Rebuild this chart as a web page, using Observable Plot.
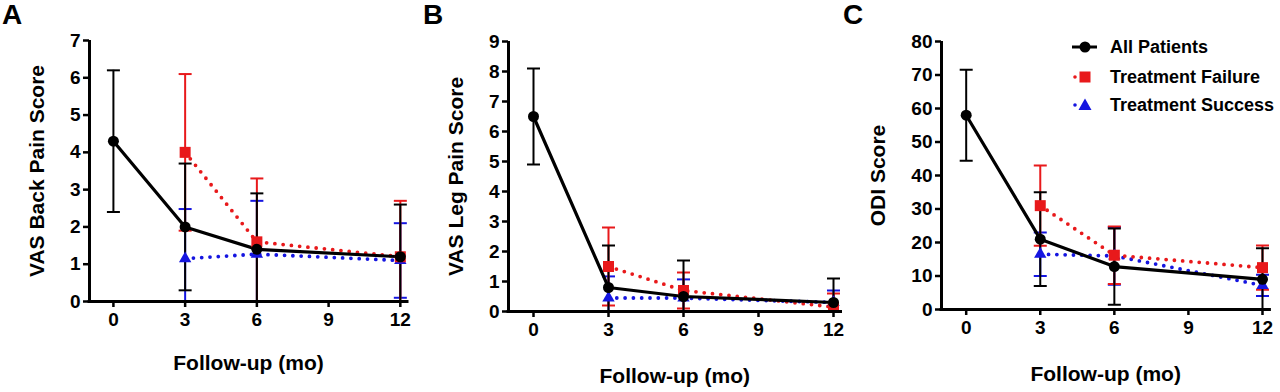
<!DOCTYPE html>
<html>
<head>
<meta charset="utf-8">
<script src="https://cdn.jsdelivr.net/npm/d3@7"></script>
<script src="https://cdn.jsdelivr.net/npm/@observablehq/plot@0.6"></script>
<style>
  html, body { margin: 0; padding: 0; background: #fff; }
  #root { position: relative; width: 1280px; height: 392px; overflow: hidden; font-family: "Liberation Sans", Arial, sans-serif; font-weight: bold; color: #000; }
  .panel { position: absolute; top: 0; }
  .letter { position: absolute; font-size: 28px; line-height: 28px; font-weight: bold; }
  svg g[aria-label="x-axis label"], svg g[aria-label="y-axis label"] { font-size: 21px; }
  .legrow { position: absolute; left: 1072px; height: 20px; display: flex; align-items: center; font-size: 18px; white-space: nowrap; }
  .legrow svg { width: 38px; height: 20px; flex: none; }
</style>
</head>
<body>
<div id="root"></div>
<script>
// ---------- data ----------
const months = [0, 3, 6, 12];
const subMonths = [3, 6, 12];
const xTicks = [0, 3, 6, 9, 12];
const xLabel = "Follow-up (mo)";
const seriesNames = ["All Patients", "Treatment Failure", "Treatment Success"];
const seriesColors = ["#000000", "#e8191b", "#1515e0"];

// Panel A: VAS back pain (mean, SD)
const backAllMean = [4.3, 2.0, 1.4, 1.2];
const backAllSD = [1.9, 1.7, 1.5, 1.4];
const backFailMean = [4.0, 1.6, 1.2];
const backFailSD = [2.1, 1.7, 1.5];
const backSuccMean = [1.15, 1.27, 1.1];
const backSuccSD = [1.33, 1.43, 1.0];
const backTicks = [0, 1, 2, 3, 4, 5, 6, 7];

// Panel B: VAS leg pain
const legAllMean = [6.5, 0.8, 0.5, 0.3];
const legAllSD = [1.6, 1.4, 1.2, 0.8];
const legFailMean = [1.5, 0.7, 0.15];
const legFailSD = [1.3, 0.6, 0.45];
const legSuccMean = [0.45, 0.45, 0.3];
const legSuccSD = [0.72, 0.62, 0.4];
const legTicks = [0, 1, 2, 3, 4, 5, 6, 7, 8, 9];

// Panel C: ODI
const odiAllMean = [58, 21, 12.8, 9];
const odiAllSD = [13.6, 14, 11.4, 9.3];
const odiFailMean = [31, 16.2, 12.5];
const odiFailSD = [12, 8.6, 6.6];
const odiSuccMean = [16.5, 16, 7.2];
const odiSuccSD = [6.5, 8.6, 3.2];
const odiTicks = [0, 10, 20, 30, 40, 50, 60, 70, 80];

// ---------- helpers ----------
function rows(xs, means, sds) {
  return xs.map((m, i) => ({month: m, mean: means[i], lo: means[i] - sds[i], hi: means[i] + sds[i]}));
}
const capSymbol = {
  draw(ctx, size) {
    const r = Math.sqrt(size / Math.PI);
    ctx.moveTo(-r, 0);
    ctx.lineTo(r, 0);
  }
};
const markerSymbols = ["circle", "square", "triangle"];
const markerR = [5.5, 6.2, 4.6];

const panels = [
  {letter: "A", letterLeft: 2, left: 0, width: 420, ml: 89, mr: 13, mt: 40, mb: 91,
   yDomain: [0, 7], yTicks: backTicks, yLabel: "VAS Back Pain Score", yOff: 60, xOff: 68,
   series: [rows(months, backAllMean, backAllSD), rows(subMonths, backFailMean, backFailSD), rows(subMonths, backSuccMean, backSuccSD)]},
  {letter: "B", letterLeft: 423, left: 420, width: 440, ml: 88, mr: 19.5, mt: 41, mb: 81,
   yDomain: [0, 9], yTicks: legTicks, yLabel: "VAS Leg Pain Score", yOff: 60, xOff: 71,
   series: [rows(months, legAllMean, legAllSD), rows(subMonths, legFailMean, legFailSD), rows(subMonths, legSuccMean, legSuccSD)]},
  {letter: "C", letterLeft: 843, left: 860, width: 420, ml: 81, mr: 10.6, mt: 41, mb: 83,
   yDomain: [0, 80], yTicks: odiTicks, yLabel: "ODI Score", yOff: 71, xOff: 71,
   series: [rows(months, odiAllMean, odiAllSD), rows(subMonths, odiFailMean, odiFailSD), rows(subMonths, odiSuccMean, odiSuccSD)]}
];

const root = document.getElementById("root");
const drawOrder = [2, 1, 0]; // success, failure, all (all on top)

for (const p of panels) {
  const marks = [];
  // error bars
  for (const k of drawOrder) {
    const c = seriesColors[k];
    const d = p.series[k];
    marks.push(Plot.ruleX(d, {x: "month", y1: "lo", y2: "hi", stroke: c, strokeWidth: 2, clip: true}));
    marks.push(Plot.dot(d, {x: "month", y: "hi", symbol: capSymbol, r: 6.5, fill: "none", stroke: c, strokeWidth: 2, clip: true}));
    marks.push(Plot.dot(d, {x: "month", y: "lo", symbol: capSymbol, r: 6.5, fill: "none", stroke: c, strokeWidth: 2, clip: true}));
  }
  // lines
  for (const k of drawOrder) {
    const c = seriesColors[k];
    const d = p.series[k];
    if (k === 0) {
      marks.push(Plot.line(d, {x: "month", y: "mean", stroke: c, strokeWidth: 3.2, strokeLinejoin: "round"}));
    } else {
      marks.push(Plot.line(d, {x: "month", y: "mean", stroke: c, strokeWidth: 3.8, strokeDasharray: "0 8.3", strokeLinecap: "round"}));
    }
  }
  // markers
  for (const k of drawOrder) {
    const c = seriesColors[k];
    marks.push(Plot.dot(p.series[k], {x: "month", y: "mean", symbol: markerSymbols[k], r: markerR[k], fill: c, stroke: "none"}));
  }
  // axis lines
  marks.push(Plot.ruleX([-1], {stroke: "#000", strokeWidth: 3}));
  marks.push(Plot.ruleY([0], {stroke: "#000", strokeWidth: 3, strokeLinecap: "square"}));
  marks.push(Plot.axisY({ticks: p.yTicks, tickFormat: d => String(d), tickSize: 6, tickPadding: 3, strokeWidth: 2.5, fontSize: 19,
    label: p.yLabel, labelAnchor: "center", labelOffset: p.yOff, labelArrow: "none"}));
  marks.push(Plot.axisX({ticks: xTicks, tickFormat: d => String(d), tickSize: 6, tickPadding: 5, strokeWidth: 2.5, fontSize: 19,
    label: xLabel, labelAnchor: "center", labelOffset: p.xOff, labelArrow: "none"}));

  const svg = Plot.plot({
    width: p.width,
    height: 392,
    marginLeft: p.ml, marginRight: p.mr, marginTop: p.mt, marginBottom: p.mb,
    x: {domain: [-1, 12.3]},
    y: {domain: p.yDomain},
    style: {fontFamily: "'Liberation Sans', Arial, sans-serif", fontWeight: "bold", color: "#000", background: "transparent", overflow: "visible"},
    marks
  });
  const wrap = document.createElement("div");
  wrap.className = "panel";
  wrap.style.left = p.left + "px";
  wrap.appendChild(svg);
  root.appendChild(wrap);

  const letter = document.createElement("div");
  letter.className = "letter";
  letter.style.left = p.letterLeft + "px";
  letter.style.top = "1px";
  letter.textContent = p.letter;
  root.appendChild(letter);
}

// legend (panel C)
const legendCenters = [47, 77, 105];
const legendSwatches = [
  `<line x1="0" y1="10" x2="25" y2="10" stroke="${seriesColors[0]}" stroke-width="3"/><circle cx="13" cy="10" r="5.5" fill="${seriesColors[0]}"/>`,
  `<line x1="3" y1="10" x2="23" y2="10" stroke="${seriesColors[1]}" stroke-width="3.6" stroke-dasharray="0 10" stroke-linecap="round"/><rect x="7.5" y="4.5" width="11" height="11" fill="${seriesColors[1]}"/>`,
  `<line x1="3" y1="10" x2="23" y2="10" stroke="${seriesColors[2]}" stroke-width="3.6" stroke-dasharray="0 10" stroke-linecap="round"/><path d="M13,3.5 L19.5,15 L6.5,15 Z" fill="${seriesColors[2]}"/>`
];
seriesNames.forEach((name, i) => {
  const row = document.createElement("div");
  row.className = "legrow";
  row.style.top = (legendCenters[i] - 10) + "px";
  row.innerHTML = `<svg viewBox="0 0 38 20">${legendSwatches[i]}</svg><span>${name}</span>`;
  root.appendChild(row);
});
</script>
</body>
</html>
